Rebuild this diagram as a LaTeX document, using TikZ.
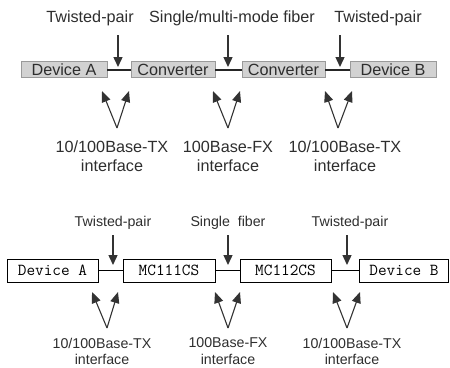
\documentclass[tikz,border=0pt]{standalone}
\usepackage{fontspec}
\setmainfont{Liberation Sans}
\usetikzlibrary{arrows.meta}
\definecolor{txt}{HTML}{2E2E2E}
\definecolor{boxgray}{HTML}{D2D2D2}
\definecolor{boxedge}{HTML}{9A9A9A}
\tikzset{
  graybox/.style={draw=boxedge, fill=boxgray, line width=0.8pt, minimum height=16pt, inner sep=0pt, text=txt, font=\fontsize{16.2}{18}\selectfont},
  whitebox/.style={draw=black, fill=white, line width=0.8pt, minimum height=23pt, inner sep=0pt, font=\fontsize{16.8}{18}\selectfont\ttfamily},
  toplabel/.style={text=txt, inner sep=0pt, font=\fontsize{16.2}{18}\selectfont},
  botlabel/.style={text=txt, inner sep=0pt, font=\fontsize{14.2}{16}\selectfont},
  thickline/.style={line width=2.2pt, black!85},
  thinline/.style={line width=0.8pt, black},
  downarrow/.style={line width=1.4pt, black!80, -{Triangle[width=9pt,length=10pt]}},
  uparrow/.style={line width=1.1pt, black!80, -{Triangle[width=9pt,length=11pt]}},
}
\begin{document}
\begin{tikzpicture}[x=1pt,y=-1pt]
\useasboundingbox (0,0) rectangle (450,367);
% ---------- top diagram ----------
\node[graybox, minimum width=86pt] (tA) at (64,69.7) {Device A};
\node[graybox, minimum width=84pt] (tC1) at (173,69.7) {Converter};
\node[graybox, minimum width=83pt] (tC2) at (283.5,69.7) {Converter};
\node[graybox, minimum width=86pt] (tB) at (393,69.7) {Device B};
\draw[thickline] (tA) -- (tC1);
\draw[thickline] (tC1) -- (tC2);
\draw[thickline] (tC2) -- (tB);

\node[toplabel] (tl1) at (90,18) {Twisted-pair};
\node[toplabel] (tl2) at (232,18) {Single/multi-mode fiber};
\node[toplabel] (tl3) at (378,18) {Twisted-pair};
\coordinate (td1s) at (118,35); \coordinate (td1e) at (118,67);
\coordinate (td2s) at (228,35); \coordinate (td2e) at (228,67);
\coordinate (td3s) at (340,35); \coordinate (td3e) at (340,67);
\draw[downarrow] (td1s) -- (td1e);
\draw[downarrow] (td2s) -- (td2e);
\draw[downarrow] (td3s) -- (td3e);

\coordinate (tu1) at (117,128); \coordinate (tu1a) at (102,91); \coordinate (tu1b) at (129,91);
\coordinate (tu2) at (228,128); \coordinate (tu2a) at (213,91); \coordinate (tu2b) at (240,91);
\coordinate (tu3) at (338,128); \coordinate (tu3a) at (325,91); \coordinate (tu3b) at (352,91);
\draw[uparrow] (tu1) -- (tu1a); \draw[uparrow] (tu1) -- (tu1b);
\draw[uparrow] (tu2) -- (tu2a); \draw[uparrow] (tu2) -- (tu2b);
\draw[uparrow] (tu3) -- (tu3a); \draw[uparrow] (tu3) -- (tu3b);

\node[toplabel] (tb1) at (112,147) {10/100Base-TX};
\node[toplabel] (tb1i) at (112,166) {interface};
\node[toplabel] (tb2) at (228,147) {100Base-FX};
\node[toplabel] (tb2i) at (228,166) {interface};
\node[toplabel] (tb3) at (345,147) {10/100Base-TX};
\node[toplabel] (tb3i) at (345,166) {interface};

% ---------- bottom diagram ----------
\node[whitebox, minimum width=91pt] (bA) at (52.5,270.5) {Device A};
\node[whitebox, minimum width=92pt] (bM1) at (169,270.5) {MC111CS};
\node[whitebox, minimum width=91pt] (bM2) at (285.5,270.5) {MC112CS};
\node[whitebox, minimum width=89pt] (bB) at (404,270.5) {Device B};
\draw[thinline] (bA) -- (bM1);
\draw[thinline] (bM1) -- (bM2);
\draw[thinline] (bM2) -- (bB);

\node[botlabel] (bl1) at (113,223) {Twisted-pair};
\node[botlabel] (bl2) at (228,223) {Single\ \ fiber};
\node[botlabel] (bl3) at (350,223) {Twisted-pair};
\coordinate (bd1s) at (113,235); \coordinate (bd1e) at (113,265);
\coordinate (bd2s) at (228,235); \coordinate (bd2e) at (228,265);
\coordinate (bd3s) at (347,235); \coordinate (bd3e) at (347,265);
\draw[downarrow] (bd1s) -- (bd1e);
\draw[downarrow] (bd2s) -- (bd2e);
\draw[downarrow] (bd3s) -- (bd3e);

\coordinate (bu1) at (107,328); \coordinate (bu1a) at (92,292); \coordinate (bu1b) at (118,292);
\coordinate (bu2) at (228,328); \coordinate (bu2a) at (215,292); \coordinate (bu2b) at (240,292);
\coordinate (bu3) at (347,328); \coordinate (bu3a) at (333,292); \coordinate (bu3b) at (360,292);
\draw[uparrow] (bu1) -- (bu1a); \draw[uparrow] (bu1) -- (bu1b);
\draw[uparrow] (bu2) -- (bu2a); \draw[uparrow] (bu2) -- (bu2b);
\draw[uparrow] (bu3) -- (bu3a); \draw[uparrow] (bu3) -- (bu3b);

\node[botlabel] (bb1) at (102,343) {10/100Base-TX};
\node[botlabel] (bb1i) at (102,359) {interface};
\node[botlabel] (bb2) at (228,343) {100Base-FX};
\node[botlabel] (bb2i) at (228,359) {interface};
\node[botlabel] (bb3) at (352,343) {10/100Base-TX};
\node[botlabel] (bb3i) at (352,359) {interface};
\end{tikzpicture}
\end{document}
